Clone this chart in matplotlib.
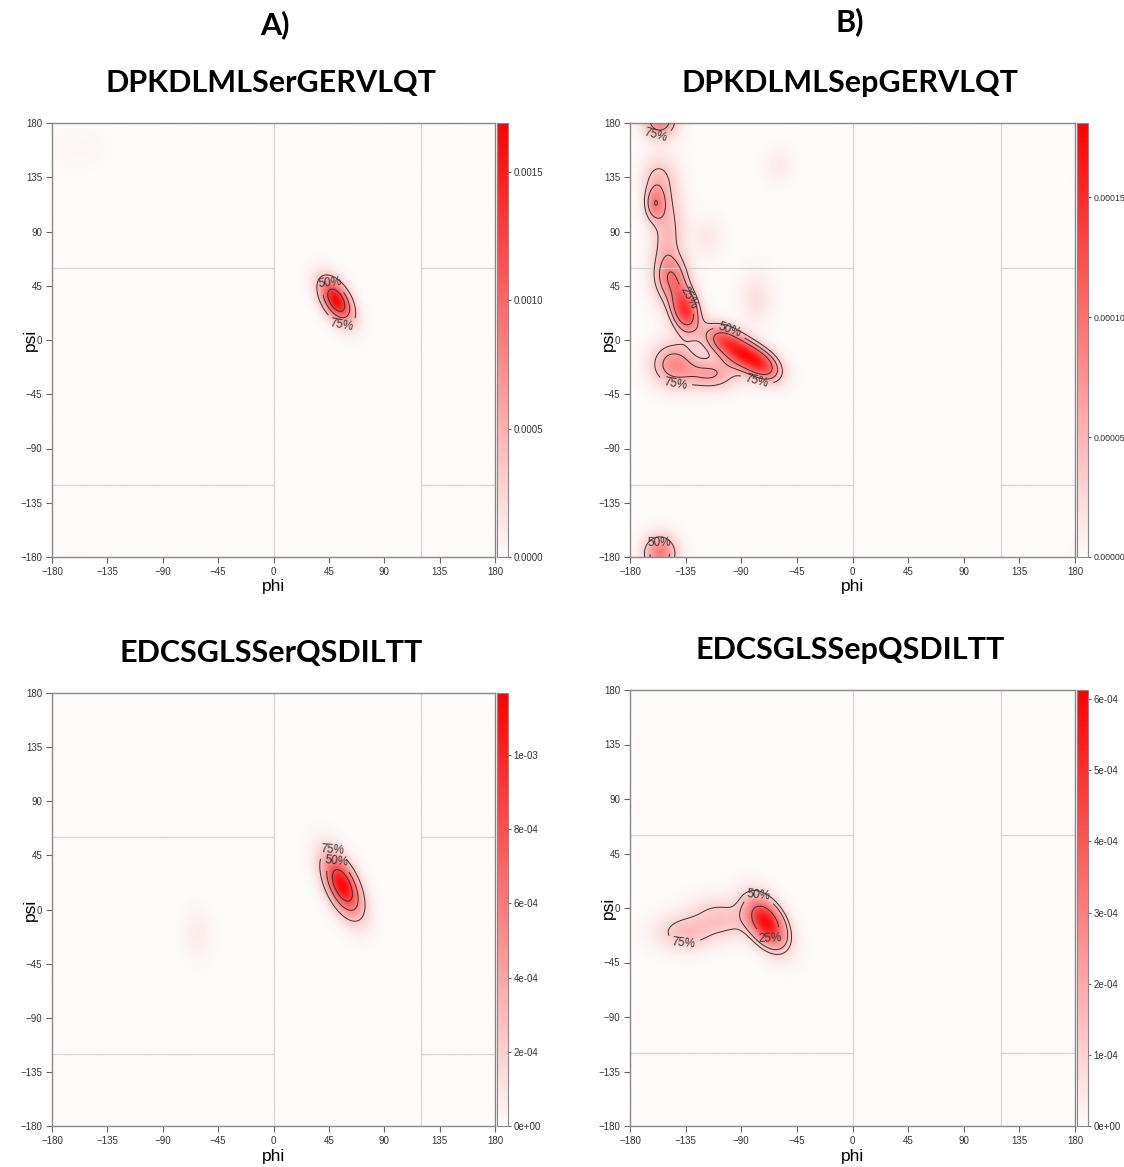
import numpy as np
import matplotlib.pyplot as plt
from matplotlib.colors import LinearSegmentedColormap

plt.rcParams['font.family'] = ['Liberation Sans', 'DejaVu Sans']

# peptide names / panel titles
titles = ['DPKDLMLSerGERVLQT', 'DPKDLMLSepGERVLQT',
          'EDCSGLSSerQSDILTT', 'EDCSGLSSepQSDILTT']

# density blobs: phi, psi, sd_phi, sd_psi, rho, relative height
blobs_a1 = [(51, 33, 9, 12, -0.5, 1.0),
            (-160, 160, 15, 12, 0.0, 0.02)]
blobs_b1 = [(-105, 0, 11, 9, -0.3, 0.6),
            (-88, -12, 11, 9, -0.3, 0.7),
            (-72, -22, 10, 9, -0.3, 0.6),
            (-136, 25, 8, 13, -0.25, 0.8),
            (-145, -20, 12, 12, 0.0, 0.42),
            (-115, -28, 15, 9, 0.0, 0.35),
            (-156, -177, 9, 10, 0.0, 0.5),
            (-160, 113, 6, 10, 0.0, 0.42),
            (-150, 85, 9, 30, 0.15, 0.26),
            (-146, 52, 9, 12, 0.0, 0.38),
            (-158, 135, 9, 12, 0.0, 0.2),
            (-60, 145, 8, 10, 0.0, 0.06),
            (-78, 35, 9, 15, 0.0, 0.1),
            (-118, 85, 9, 12, 0.0, 0.07)]
blobs_a2 = [(56, 20, 10.5, 17, -0.55, 1.0),
            (-62, -20, 8, 14, 0.0, 0.06)]
blobs_b2 = [(-70, -12, 11, 14, -0.45, 1.0),
            (-135, -20, 16, 10, 0.0, 0.25),
            (-105, -8, 16, 11, -0.2, 0.22)]
all_blobs = [blobs_a1, blobs_b1, blobs_a2, blobs_b2]

# colour bar tops and ticks
vmax_list = [0.00169, 0.000181, 0.001167, 0.000613]
cbar_ticks = [[0, 0.0005, 0.0010, 0.0015],
              [0, 0.00005, 0.00010, 0.00015],
              [0, 2e-4, 4e-4, 6e-4, 8e-4, 1e-3],
              [0, 1e-4, 2e-4, 3e-4, 4e-4, 5e-4, 6e-4]]
cbar_fmt = ['%.4f', '%.5f', 'sci', 'sci']
cbar_size = [7, 6.3, 7, 7]

# contour label spots (phi, psi)
label_spots = [[(46, 46), (56, 14)],
               [(-159, 170), (-137, 32), (-99, 9), (-77, -33), (-144, -42), (-156, -170)],
               [(48, 50), (50, 37)],
               [(-76, 10), (-66, -22), (-137, -35)]]

pct = [0.25, 0.50, 0.75]
pct_txt = ['25%', '50%', '75%']

phi = np.linspace(-180, 180, 361)
psi = np.linspace(-180, 180, 361)
P, S = np.meshgrid(phi, psi)


def wrap(d):
    return (d + 180) % 360 - 180


def density(blobs, vmax):
    z = np.zeros_like(P)
    for mphi, mpsi, sphi, spsi, rho, amp in blobs:
        dx = wrap(P - mphi) / sphi
        dy = wrap(S - mpsi) / spsi
        q = (dx ** 2 - 2 * rho * dx * dy + dy ** 2) / (1 - rho ** 2)
        z += amp * np.exp(-0.5 * q)
    return z / z.max() * vmax * 0.97


def hdr_levels(z):
    v = np.sort(z.ravel())[::-1]
    c = np.cumsum(v) / v.sum()
    return [v[np.searchsorted(c, f)] for f in pct]


cmap = LinearSegmentedColormap.from_list('wr', ['#fdfafa', '#ff0000'])

W, H = 1124, 1167
fig = plt.figure(figsize=(W / 100, H / 100), dpi=100)

# pixel boxes: left, top, right, bottom
boxes = [(52, 123, 495, 557), (630, 123, 1075, 557),
         (52, 693, 495, 1126), (630, 690, 1075, 1126)]

for i in range(4):
    l, t, r, b = boxes[i]
    ax = fig.add_axes([l / W, 1 - b / H, (r - l) / W, (b - t) / H])
    cax = fig.add_axes([(r + 2) / W, 1 - b / H, 11 / W, (b - t) / H])
    z = density(all_blobs[i], vmax_list[i])
    im = ax.imshow(z, extent=[-180, 180, -180, 180], origin='lower', cmap=cmap,
                   vmin=0, vmax=vmax_list[i], aspect='auto', interpolation='bilinear')
    for x in [0, 120]:
        ax.axvline(x, color='#d4d4d4', lw=0.9, zorder=2)
    for y in [60, -120]:
        ax.hlines(y, -180, 0, color='#d4d4d4', lw=0.9, zorder=2)
        ax.hlines(y, 120, 180, color='#d4d4d4', lw=0.9, zorder=2)
    lv = hdr_levels(z)
    order = np.argsort(lv)
    levels = [lv[k] for k in order]
    cs = ax.contour(P, S, z, levels=levels, colors='#333333', linewidths=0.7, zorder=3)
    fmt = {levels[j]: pct_txt[order[j]] for j in range(3)}
    ax.clabel(cs, fmt=fmt, fontsize=8.5, inline=True, manual=label_spots[i])
    ax.set_xlim(-180, 180)
    ax.set_ylim(-180, 180)
    ax.set_xticks(range(-180, 181, 45))
    ax.set_yticks(range(-180, 181, 45))
    ax.tick_params(direction='out', length=4, width=0.8, color='#666666',
                   labelsize=7, labelcolor='#333333', pad=3)
    for sp in ax.spines.values():
        sp.set_color('#888888')
        sp.set_linewidth(1.0)
    ax.set_xlabel('phi', fontsize=12.5, va='center')
    ax.set_ylabel('psi', fontsize=12.5, va='center')
    ax.xaxis.set_label_coords(0.5, -30 / (b - t))
    ax.yaxis.set_label_coords(-22 / (r - l), 0.5)

    cb = fig.colorbar(im, cax=cax, ticks=cbar_ticks[i])
    if cbar_fmt[i] == 'sci':
        cb.ax.set_yticklabels(['%.0e' % v for v in cbar_ticks[i]])
    else:
        cb.ax.set_yticklabels([cbar_fmt[i] % v for v in cbar_ticks[i]])
    cb.ax.tick_params(length=2.5, width=0.8, color='#666666', labelsize=cbar_size[i],
                      labelcolor='#333333', pad=1.5)
    cb.outline.set_edgecolor('#888888')

    fig.text(((l + r) / 2 - 2) / W, 1 - (t - 40) / H, titles[i],
             ha='center', va='center', fontsize=22, fontweight='bold',
             family=['Lato', 'DejaVu Sans'])

fig.text(275 / W, 1 - 25 / H, 'A)', ha='center', va='center', fontsize=22,
         fontweight='bold', family=['Lato', 'DejaVu Sans'])
fig.text(850 / W, 1 - 22 / H, 'B)', ha='center', va='center', fontsize=22,
         fontweight='bold', family=['Lato', 'DejaVu Sans'])

fig.savefig('out.png', dpi=100)
